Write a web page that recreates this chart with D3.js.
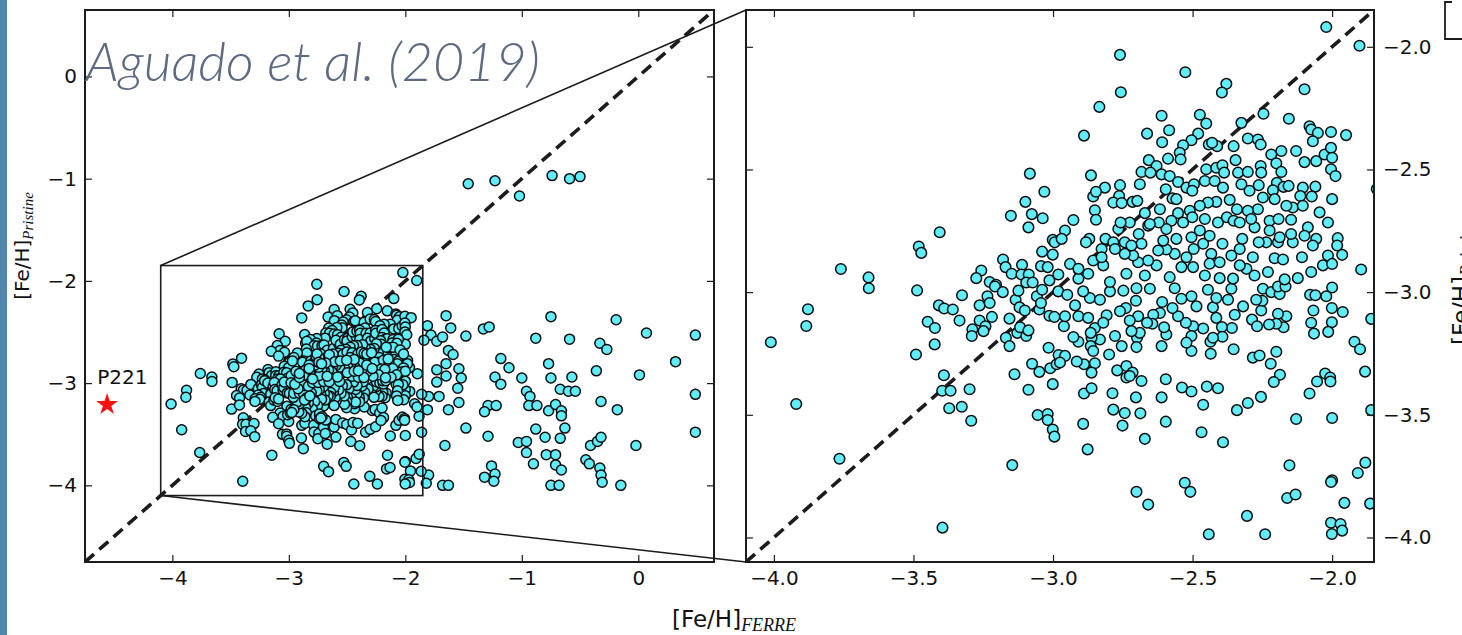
<!DOCTYPE html>
<html>
<head>
<meta charset="utf-8">
<script src="https://cdn.jsdelivr.net/npm/d3@7"></script>
<style>
  html, body { margin: 0; padding: 0; background: #fff; }
  svg { display: block; }
</style>
</head>
<body>
<svg id="fig" width="1462" height="635"></svg>
<script>
// [Fe/H] from FERRE vs [Fe/H] from Pristine photometry, pairs of [FERRE, Pristine]

// stars outside the zoomed window (metal-richer FERRE values)
const outerStars = [
  [-1.46,-1.05],[-1.23,-1.02],[-1.02,-1.17],[-0.74,-0.97],[-0.59,-1.00],[-0.50,-0.98],
  [-1.65,-2.34],[-1.61,-2.46],[-1.81,-2.44],[-1.78,-2.53],[-1.73,-2.59],[-1.68,-2.55],
  [-1.84,-2.58],[-1.48,-2.54],[-1.33,-2.47],[-1.28,-2.45],[-0.88,-2.56],[-0.75,-2.35],
  [-0.59,-2.57],[-0.19,-2.38],[0.07,-2.51],[0.49,-2.53],[-0.33,-2.61],[-0.27,-2.67],
  [-1.63,-2.68],[-1.59,-2.72],[-1.65,-2.81],[-1.54,-2.86],[-1.52,-2.95],[-1.65,-2.93],
  [-1.73,-2.87],[-1.73,-2.99],[-1.55,-3.05],[-1.71,-3.13],[-1.54,-3.19],[-1.63,-3.26],
  [-1.80,-3.13],[-1.81,-3.26],[-1.18,-2.76],[-1.11,-2.85],[-1.23,-2.94],[-1.18,-3.01],
  [-1.00,-2.95],[-0.77,-2.81],[-0.75,-2.95],[-0.57,-2.94],[-0.36,-2.88],[0.01,-2.92],
  [0.32,-2.79],[0.49,-3.11],[0.49,-3.48],[-0.96,-3.08],[-0.93,-3.13],[-0.94,-3.22],
  [-0.87,-3.22],[-0.77,-3.27],[-0.71,-3.21],[-0.67,-3.06],[-0.60,-3.08],[-0.54,-3.08],
  [-0.66,-3.27],[-0.66,-3.32],[-0.32,-3.18],[-0.18,-3.26],[-1.29,-3.22],[-1.22,-3.22],
  [-1.32,-3.28],[-1.48,-3.44],[-1.29,-3.52],[-1.66,-3.61],[-0.88,-3.45],[-0.80,-3.53],
  [-0.67,-3.54],[-0.63,-3.44],[-1.03,-3.58],[-0.96,-3.57],[-0.96,-3.68],[-0.90,-3.79],
  [-0.79,-3.70],[-0.71,-3.70],[-0.71,-3.80],[-0.66,-3.85],[-0.41,-3.61],[-0.35,-3.57],
  [-0.32,-3.53],[-0.45,-3.75],[-0.42,-3.79],[-0.33,-3.83],[-0.32,-3.90],[-0.31,-3.97],
  [-0.15,-4.00],[-0.02,-3.61],[-1.26,-3.81],[-1.32,-3.92],[-1.23,-3.89],[-1.24,-3.96],
  [-0.75,-4.00],[-0.68,-4.00],[-1.68,-4.00],[-1.63,-4.00],[-1.80,-3.90],[-1.82,-3.98]
];

// most metal-poor part of the sample
const poorStars = [
  [-3.083,-2.517],[-3.031,-2.591],[-3.099,-2.632],[-3.076,-2.682],[-3.037,-2.699],[-3.151,-2.689],
  [-3.088,-2.736],[-3.406,-2.756],[-3.481,-2.814],[-3.472,-2.840],[-3.760,-2.906],[-3.661,-2.940],
  [-3.001,-2.787],[-2.994,-2.797],[-3.039,-2.835],[-3.001,-2.847],[-3.179,-2.867],[-3.257,-2.912],
  [-3.275,-2.943],[-3.170,-2.898],[-3.148,-2.925],[-3.111,-2.889],[-3.113,-2.928],[-3.087,-2.928],
  [-3.043,-2.894],[-3.019,-2.898],[-3.013,-2.952],[-2.981,-2.928],[-3.227,-2.959],[-3.204,-2.970],
  [-3.096,-2.961],[-3.073,-2.961],
  [-3.660,-2.984],[-3.487,-2.993],[-3.878,-3.070],[-3.884,-3.138],[-4.011,-3.204],[-3.920,-3.456],
  [-3.765,-3.679],[-3.396,-3.960],[-3.491,-3.254],[-3.409,-3.054],[-3.390,-3.067],[-3.359,-3.071],
  [-3.449,-3.121],[-3.423,-3.146],[-3.424,-3.213],[-3.326,-3.013],[-3.335,-3.116],[-3.391,-3.339],
  [-3.397,-3.402],[-3.367,-3.402],[-3.299,-3.396],[-3.372,-3.473],[-3.327,-3.467],[-3.293,-3.524],
  [-3.146,-3.705],[-3.263,-3.054],[-3.235,-3.017],[-3.227,-3.044],[-3.219,-3.101],[-3.263,-3.116],
  [-3.242,-3.139],[-3.289,-3.152],[-3.249,-3.159],[-3.291,-3.179],[-3.208,-2.977],[-3.180,-3.000],
  [-3.156,-3.108],[-3.134,-3.031],[-3.124,-2.994],[-3.120,-3.062],[-3.101,-3.075],[-3.169,-3.186],
  [-3.156,-3.220],[-3.128,-3.166],[-3.096,-3.179],[-3.118,-3.143],[-3.088,-3.156],[-3.058,-3.017],
  [-3.049,-3.071],[-3.043,-3.044],[-3.039,-2.990],[-3.013,-3.096],[-2.995,-3.101],[-3.016,-3.227],
  [-3.075,-3.292],[-3.049,-3.325],[-3.138,-3.335],[-3.088,-3.398],[-3.001,-3.375],[-3.010,-3.310],
  [-2.987,-3.294],[-3.055,-3.501],[-3.019,-3.497],[-3.019,-3.521],[-3.001,-3.560],[-2.995,-3.589],
  [-2.980,-3.256],[-2.981,-2.997]
];

// low Pristine values, FERRE between -3 and -1.85
const lowerStars = [
  [-2.892,-3.537],[-2.876,-3.641],[-2.889,-3.413],[-2.862,-3.392],[-2.787,-3.412],[-2.784,-3.479],
  [-2.743,-3.493],[-2.751,-3.544],[-2.703,-3.429],[-2.687,-3.494],[-2.671,-3.598],[-2.683,-3.362],
  [-2.701,-3.814],[-2.659,-3.866],[-2.611,-3.429],[-2.596,-3.355],[-2.596,-3.528],[-2.538,-3.389],
  [-2.504,-3.405],[-2.462,-3.459],[-2.449,-3.385],[-2.409,-3.392],[-2.468,-3.571],[-2.391,-3.612],
  [-2.528,-3.777],[-2.508,-3.814],[-2.442,-3.987],[-2.341,-3.481],[-2.302,-3.452],[-2.255,-3.427],
  [-2.305,-3.912],[-2.240,-3.987],[-2.284,-3.267],[-2.260,-3.258],[-2.220,-3.292],[-2.200,-3.243],
  [-2.187,-3.337],[-2.209,-3.366],[-2.353,-3.233],[-2.435,-3.251],[-2.129,-3.517],[-2.153,-3.706],
  [-2.161,-3.839],[-2.131,-3.825],[-2.081,-3.413],[-2.054,-3.364],[-2.025,-3.332],[-2.007,-3.348],
  [-2.006,-3.364],[-2.000,-3.513],[-2.000,-3.767],[-2.004,-3.774],[-1.956,-3.859],[-2.004,-3.940],
  [-1.970,-3.945],[-1.964,-3.972],[-2.001,-3.986],[-1.908,-3.737],[-1.881,-3.695],[-1.864,-3.862],
  [-1.860,-3.481],[-1.882,-3.324],[-1.920,-3.202],[-1.900,-3.233],[-1.860,-3.109],[-1.962,-3.081],
  [-2.001,-3.065],[-2.001,-3.123],[-2.014,-3.162],[-2.000,-2.981],[-2.021,-3.017],[-2.079,-3.011],
  [-2.060,-3.013],[-2.067,-3.075],[-2.075,-3.125],[-2.065,-3.169],[-2.164,-3.098],[-2.174,-3.143],
  [-2.194,-3.088],[-2.200,-3.129],[-2.226,-3.132],[-2.254,-3.075],[-2.250,-3.035],[-2.272,-3.031],
  [-2.287,-3.112],[-2.269,-3.139],[-2.248,-2.986],[-2.218,-3.000],[-2.188,-3.008],[-2.194,-2.977],
  [-2.167,-2.977],[-2.319,-3.058],[-2.349,-3.092],[-2.359,-3.146],[-2.373,-3.031],[-2.361,-2.986],
  [-2.395,-3.142],[-2.393,-3.182],[-2.415,-3.105],[-2.427,-3.062],[-2.415,-3.024],[-2.445,-2.990],
  [-2.462,-3.148],[-2.436,-3.202],[-2.427,-3.186],[-2.486,-3.058],[-2.498,-3.139],[-2.504,-3.017],
  [-2.504,-3.179],[-2.504,-3.240],[-2.522,-3.206],[-2.524,-3.125],[-2.540,-3.027],[-2.552,-3.098],
  [-2.572,-3.065],[-2.594,-3.173],[-2.602,-3.143],[-2.611,-3.220],[-2.617,-3.085],[-2.609,-3.040],
  [-2.641,-3.092],[-2.644,-3.129],[-2.663,-3.125],[-2.695,-3.098],[-2.699,-3.186],[-2.701,-3.224],
  [-2.689,-3.166],[-2.703,-3.035],[-2.725,-3.116],[-2.719,-3.159],[-2.739,-3.065],[-2.754,-3.220],
  [-2.760,-3.078],[-2.778,-3.179],[-2.799,-3.254],[-2.770,-3.319],[-2.737,-3.301],[-2.737,-3.348],
  [-2.715,-3.328],[-2.725,-3.342],[-2.808,-3.094],[-2.832,-3.193],[-2.862,-3.186],[-2.865,-3.220],
  [-2.856,-3.240],[-2.850,-3.290],[-2.862,-3.328],[-2.889,-3.294],[-2.915,-3.283],[-2.909,-3.202],
  [-2.927,-3.183],[-2.957,-3.260],[-2.975,-3.287],[-2.961,-3.139],[-2.957,-3.098],[-2.909,-3.098],
  [-2.874,-3.105],[-2.868,-3.024],[-2.892,-2.997],[-2.921,-3.054],[-2.949,-3.011],[-2.832,-3.031],
  [-2.796,-2.997],[-2.748,-2.994],[-2.701,-2.984],[-2.653,-2.986],[-2.850,-3.146],[-2.865,-3.166],
  [-2.820,-3.125],[-2.564,-2.984]
];

// upper part of the main clump
const upperStars = [
  [-2.021,-1.919],[-1.902,-1.996],[-2.760,-2.033],[-2.757,-2.185],[-2.526,-2.104],[-2.379,-2.151],
  [-2.395,-2.186],[-2.099,-2.173],[-2.834,-2.245],[-2.889,-2.362],[-2.611,-2.281],[-2.474,-2.277],
  [-2.451,-2.313],[-2.246,-2.273],[-2.155,-2.293],[-2.325,-2.310],[-2.663,-2.354],[-2.584,-2.340],
  [-2.609,-2.389],[-2.480,-2.354],[-2.504,-2.381],[-2.534,-2.401],[-2.546,-2.432],[-2.543,-2.459],
  [-2.442,-2.398],[-2.412,-2.405],[-2.430,-2.391],[-2.353,-2.405],[-2.302,-2.374],[-2.266,-2.378],
  [-2.256,-2.398],[-2.346,-2.462],[-2.081,-2.324],[-2.075,-2.337],[-2.051,-2.351],[-2.069,-2.385],
  [-2.004,-2.347],[-1.950,-2.360],[-2.129,-2.425],[-2.182,-2.425],[-2.218,-2.439],[-2.099,-2.470],
  [-2.057,-2.466],[-2.027,-2.439],[-2.004,-2.412],[-2.000,-2.452],[-2.004,-2.499],[-1.988,-2.527],
  [-2.000,-2.621],[-2.864,-2.524],[-2.588,-2.456],[-2.657,-2.462],[-2.629,-2.486],[-2.683,-2.510],
  [-2.651,-2.513],[-2.611,-2.520],[-2.582,-2.527],[-2.552,-2.551],[-2.689,-2.560],[-2.760,-2.564],
  [-2.814,-2.574],[-2.856,-2.610],[-2.846,-2.591],[-2.763,-2.608],[-2.784,-2.635],[-2.754,-2.637],
  [-2.715,-2.632],[-2.698,-2.628],[-2.671,-2.678],[-2.850,-2.666],[-2.846,-2.705],[-2.927,-2.706],
  [-2.957,-2.749],[-2.969,-2.783],[-2.870,-2.783],[-2.882,-2.797],[-2.812,-2.783],[-2.784,-2.797],
  [-2.766,-2.743],[-2.725,-2.716],[-2.758,-2.716],[-2.693,-2.763],[-2.659,-2.729],[-2.617,-2.662],
  [-2.572,-2.618],[-2.596,-2.581],[-2.558,-2.621],[-2.522,-2.574],[-2.495,-2.560],[-2.501,-2.587],
  [-2.456,-2.547],[-2.421,-2.547],[-2.451,-2.499],[-2.415,-2.493],[-2.393,-2.483],[-2.387,-2.513],
  [-2.391,-2.574],[-2.337,-2.513],[-2.302,-2.510],[-2.325,-2.560],[-2.296,-2.587],[-2.263,-2.564],
  [-2.256,-2.486],[-2.254,-2.513],[-2.200,-2.475],[-2.182,-2.510],[-2.198,-2.554],[-2.174,-2.571],
  [-2.156,-2.567],[-2.212,-2.585],[-2.105,-2.574],[-2.060,-2.570],[-2.114,-2.608],[-2.073,-2.610],
  [-2.206,-2.621],[-2.248,-2.614],[-2.266,-2.662],[-2.302,-2.668],[-2.341,-2.662],[-2.367,-2.624],
  [-2.415,-2.632],[-2.445,-2.635],[-2.474,-2.648],[-2.510,-2.668],[-2.552,-2.678],[-2.576,-2.709],
  [-2.594,-2.743],[-2.621,-2.716],[-2.653,-2.722],[-2.534,-2.716],[-2.501,-2.695],[-2.456,-2.702],
  [-2.409,-2.716],[-2.377,-2.695],[-2.353,-2.709],[-2.322,-2.783],[-2.278,-2.736],[-2.224,-2.709],
  [-2.192,-2.702],[-2.147,-2.705],[-2.224,-2.749],[-2.194,-2.797],[-2.236,-2.797],[-2.263,-2.797],
  [-2.188,-2.776],[-2.087,-2.736],[-2.099,-2.770],[-2.057,-2.783],[-2.069,-2.810],[-2.141,-2.797],
  [-2.108,-2.858],[-2.206,-2.862],[-2.176,-2.867],[-2.230,-2.918],[-1.980,-2.780],[-1.964,-2.848],
  [-1.982,-2.810],[-2.015,-2.851],[-2.033,-2.891],[-2.000,-2.885],[-1.896,-2.908],[-2.075,-2.918],
  [-2.123,-2.943],[-2.170,-2.948],[-2.307,-2.905],[-2.278,-2.932],[-2.331,-2.891],[-2.361,-2.851],
  [-2.393,-2.803],[-2.433,-2.844],[-2.462,-2.803],[-2.496,-2.824],[-2.522,-2.858],[-2.540,-2.898],
  [-2.564,-2.844],[-2.594,-2.826],[-2.623,-2.830],[-2.629,-2.891],[-2.659,-2.871],[-2.695,-2.878],
  [-2.713,-2.851],[-2.737,-2.925],[-2.743,-2.844],[-2.778,-2.824],[-2.820,-2.891],[-2.856,-2.871],
  [-2.874,-2.925],[-2.909,-2.945],[-2.939,-2.885],[-2.796,-2.959],[-2.671,-2.932],[-2.582,-2.939],
  [-2.456,-2.932],[-2.403,-2.943],[-2.355,-2.945],[-2.498,-2.898],[-2.439,-2.884],[-2.403,-2.878],
  [-2.605,-2.790],[-2.558,-2.783],[-2.743,-2.797],[-2.683,-2.803],[-2.719,-2.810],[-2.826,-2.824],
  [-2.826,-2.858],[-2.909,-2.905],[-2.474,-2.749],[-2.439,-2.770],[-2.504,-2.776],[-2.331,-2.716],
  [-2.290,-2.702],[-2.141,-2.655],[-2.105,-2.648],[-2.164,-2.648],[-2.045,-2.675],[-2.015,-2.716],
  [-2.147,-2.763],[-2.331,-2.824],[-2.284,-2.858]
];

const highlighted = [{ name: "P221", ferre: -4.56, pristine: -3.20 }];

const fullDomain = [-4.75, 0.65];
const zoomDomain = [-4.1, -1.85];
const fullTicks = [-4, -3, -2, -1, 0];
const zoomTicks = [-4.0, -3.5, -3.0, -2.5, -2.0];

const allStars = [...outerStars, ...poorStars, ...lowerStars, ...upperStars];

const svg = d3.select("#fig");
const minus = s => s.replace("-", "\u2212");
const ink = "#1c1c1c";
const dotFill = "#60ecf8";

// decorative strip on the left edge
svg.append("rect").attr("x", 0).attr("y", 0).attr("width", 7).attr("height", 635)
  .attr("fill", "#4f86ae");

// panel geometry
const panels = [
  { id: "full", x0: 85, x1: 714, y0: 10, y1: 562, domain: fullDomain, ticks: fullTicks,
    fmt: d => minus(d3.format("d")(d)), labelSide: "left", r: 5.0 },
  { id: "zoom", x0: 746, x1: 1374, y0: 10, y1: 562, domain: zoomDomain, ticks: zoomTicks,
    fmt: d => minus(d3.format(".1f")(d)), labelSide: "right", r: 5.3 }
];

panels.forEach(p => {
  p.xs = d3.scaleLinear().domain(p.domain).range([p.x0, p.x1]);
  p.ys = d3.scaleLinear().domain(p.domain).range([p.y1, p.y0]);

  const defs = svg.append("defs");
  defs.append("clipPath").attr("id", "clip-" + p.id)
    .append("rect").attr("x", p.x0).attr("y", p.y0)
    .attr("width", p.x1 - p.x0).attr("height", p.y1 - p.y0);

  const g = svg.append("g").attr("clip-path", `url(#clip-${p.id})`);

  // one-to-one line
  g.append("line")
    .attr("x1", p.xs(p.domain[0])).attr("y1", p.ys(p.domain[0]))
    .attr("x2", p.xs(p.domain[1])).attr("y2", p.ys(p.domain[1]))
    .attr("stroke", ink).attr("stroke-width", 3.6).attr("stroke-dasharray", "12,7");

  g.selectAll("circle").data(allStars).join("circle")
    .attr("cx", d => p.xs(d[0])).attr("cy", d => p.ys(d[1]))
    .attr("r", p.r).attr("fill", dotFill)
    .attr("stroke", "#0d0d0d").attr("stroke-width", 1.5);

  // axes: inward ticks on all four sides
  const tickLen = 7;
  const mk = (axis, scale) => axis(scale).tickValues(p.ticks).tickSizeInner(-tickLen).tickSizeOuter(0);
  const style = sel => {
    sel.select(".domain").remove();
    sel.selectAll(".tick line").attr("stroke", ink).attr("stroke-width", 1.2);
    sel.selectAll("text").attr("fill", "#111").attr("font-family", "DejaVu Sans")
      .attr("font-size", 20);
  };
  svg.append("g").attr("transform", `translate(0,${p.y1})`)
    .call(mk(d3.axisBottom, p.xs).tickFormat(p.fmt).tickPadding(9)).call(style);
  svg.append("g").attr("transform", `translate(0,${p.y0})`)
    .call(mk(d3.axisTop, p.xs).tickFormat("")).call(style);
  svg.append("g").attr("transform", `translate(${p.x0},0)`)
    .call(mk(d3.axisLeft, p.ys).tickFormat(p.labelSide === "left" ? p.fmt : "").tickPadding(8)).call(style);
  svg.append("g").attr("transform", `translate(${p.x1},0)`)
    .call(mk(d3.axisRight, p.ys).tickFormat(p.labelSide === "right" ? p.fmt : "").tickPadding(9)).call(style);

  svg.append("rect").attr("x", p.x0).attr("y", p.y0)
    .attr("width", p.x1 - p.x0).attr("height", p.y1 - p.y0)
    .attr("fill", "none").attr("stroke", ink).attr("stroke-width", 2);
});

const [full, zoom] = panels;

// inset window and connector lines
const bx0 = full.xs(zoomDomain[0]), bx1 = full.xs(zoomDomain[1]);
const by0 = full.ys(zoomDomain[1]), by1 = full.ys(zoomDomain[0]);
svg.append("rect").attr("x", bx0).attr("y", by0).attr("width", bx1 - bx0).attr("height", by1 - by0)
  .attr("fill", "none").attr("stroke", ink).attr("stroke-width", 1.6);
svg.append("line").attr("x1", bx0).attr("y1", by0).attr("x2", zoom.x0).attr("y2", zoom.y0)
  .attr("stroke", ink).attr("stroke-width", 1.6);
svg.append("line").attr("x1", bx0).attr("y1", by1).attr("x2", zoom.x0).attr("y2", zoom.y1)
  .attr("stroke", ink).attr("stroke-width", 1.6);

// highlighted star
highlighted.forEach(s => {
  const cx = full.xs(s.ferre), cy = full.ys(s.pristine);
  svg.append("path").attr("d", d3.symbol(d3.symbolStar, 150)())
    .attr("transform", `translate(${cx},${cy + 1})`).attr("fill", "#ff1010");
  svg.append("text").attr("x", cx - 10).attr("y", cy - 20)
    .attr("font-family", "DejaVu Sans").attr("font-size", 20).attr("fill", "#111").text(s.name);
});

// axis titles
const xl = svg.append("text").attr("x", 672).attr("y", 627)
  .attr("font-family", "DejaVu Sans").attr("font-size", 23).attr("fill", "#111");
xl.append("tspan").text("[Fe/H]");
xl.append("tspan").attr("dy", 4).attr("font-family", "Liberation Serif").attr("font-style", "italic")
  .attr("font-size", 18).text("FERRE");

function yTitle(x, y, size, subSize) {
  const t = svg.append("text").attr("transform", `translate(${x},${y}) rotate(-90)`)
    .attr("text-anchor", "middle")
    .attr("font-family", "DejaVu Sans").attr("font-size", size).attr("fill", "#111");
  t.append("tspan").text("[Fe/H]");
  t.append("tspan").attr("dy", 4).attr("font-family", "Liberation Serif").attr("font-style", "italic")
    .attr("font-size", subSize).text("Pristine");
}
yTitle(29, 246, 20, 15);
yTitle(1469, 282, 23, 18);

// bracket at the top-right edge
svg.append("path").attr("d", "M1452,2 H1445 V39 H1462")
  .attr("fill", "none").attr("stroke", ink).attr("stroke-width", 1.8);

// citation
svg.append("text").attr("x", 86).attr("y", 81)
  .attr("font-family", "Lato, 'Open Sans', sans-serif").attr("font-style", "italic")
  .attr("font-weight", 300).attr("font-size", 54).attr("fill", "#5e6a80")
  .attr("textLength", 454).attr("lengthAdjust", "spacingAndGlyphs")
  .text("Aguado et al. (2019)");
</script>
</body>
</html>
